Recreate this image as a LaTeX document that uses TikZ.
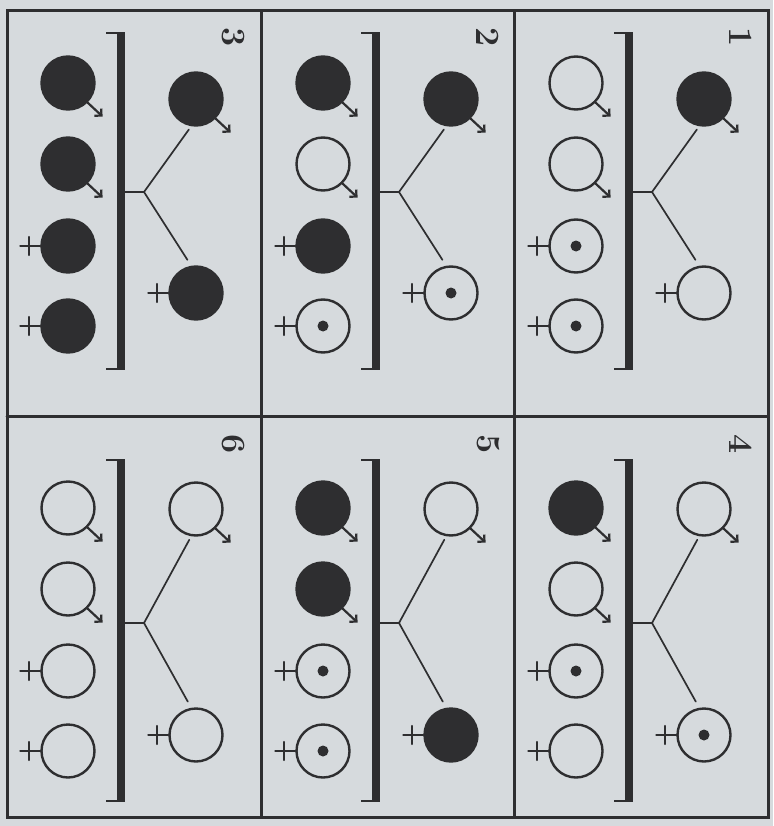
\documentclass[tikz,border=0pt]{standalone}
\usepackage{tikz}
\usetikzlibrary{arrows.meta, calc}

\definecolor{paper}{RGB}{214,218,221}
\definecolor{ink}{RGB}{46,46,48}

\begin{document}
\begin{tikzpicture}[
    x=1pt, y=-1pt, % pixel-like units, y runs downwards
    line cap=round,
    frame/.style={ink, line width=3pt}, % Panel borders
    person/.style={circle, draw=ink, line width=2.4pt, minimum size=53pt, inner sep=0pt},
    aff/.style={person, fill=ink}, % affected
    norm/.style={person, fill=paper}, % healthy
    carr/.style={person, fill=paper,
        path picture={\fill[ink] (path picture bounding box.center) circle (5.5pt);}}, % carrier
    sym/.style={ink, line width=2.2pt}, % sex marks
    marrow/.style={sym, -{Straight Barb[angle=90:7pt]}},
    link/.style={ink, line width=1.7pt}, % Mating lines
    bar/.style={fill=ink, minimum width=8pt, inner sep=0pt},
    tick/.style={ink, line width=2.5pt, line cap=butt},
    numstyle/.style={rotate=-90, font=\fontsize{34}{38}\selectfont\bfseries, text=ink}
]

    % --- Background and frame ---
    \fill[paper] (0,0) rectangle (773,826);
    \useasboundingbox (0,0) rectangle (773,826);
    \draw[frame] (7,11) rectangle (768,817);
    \draw[frame] (261,11) -- (261,817);
    \draw[frame] (514,11) -- (514,817);
    \draw[frame] (7,416) -- (768,416);

    % --- Panels: x offset / row / number / father / mother / four children ---
    \foreach \px/\py/\pn/\ms/\fs/\oa/\ob/\oc/\od in {
        0/0/3/aff/aff/aff/aff/aff/aff,
        255/0/2/aff/carr/aff/norm/aff/carr,
        508/0/1/aff/norm/norm/norm/carr/carr,
        0/1/6/norm/norm/norm/norm/norm/norm,
        255/1/5/norm/aff/aff/aff/carr/carr,
        508/1/4/norm/carr/aff/norm/carr/norm} {

        % row dependent heights
        \pgfmathsetmacro\dy{425*\py}
        \pgfmathsetmacro\my{{99,84}[\py]+\dy}
        \pgfmathsetmacro\fy{{293,310}[\py]+\dy}
        \pgfmathsetmacro\ny{{37,19}[\py]+\dy}
        \pgfmathsetmacro\fk{{192,198}[\py]+\dy}
        \pgfmathsetmacro\bc{{201,205.5}[\py]+\dy}
        \pgfmathsetmacro\bh{{338,343}[\py]}

        % number
        \node[numstyle] (n\pn) at (\px+233, \ny) {\pn};

        % parents
        \node[\ms] (m\pn) at (\px+196, \my) {};
        \node[\fs] (f\pn) at (\px+196, \fy) {};

        % children
        \node[\oa] (o\pn-1) at (\px+68, \dy+83) {};
        \node[\ob] (o\pn-2) at (\px+68, \dy+164) {};
        \node[\oc] (o\pn-3) at (\px+68, \dy+246) {};
        \node[\od] (o\pn-4) at (\px+68, \dy+326) {};

        % bracket
        \node[bar, minimum height=\bh pt] (b\pn) at (\px+121, \bc) {};
        \draw[tick] ([yshift=-1.2pt]b\pn.north west) -- ++(-11,0);
        \draw[tick] ([yshift=1.2pt]b\pn.south west) -- ++(-11,0);

        % mating fork
        \coordinate (y\pn) at (\px+144, \fk);
        \draw[link] (b\pn.east |- y\pn) -- (y\pn);
        \draw[link, shorten >=4pt] (y\pn) -- (m\pn.-100);
        \draw[link, shorten >=7pt] (y\pn) -- (f\pn.100);

        % male marks
        \foreach \who in {m\pn, o\pn-1, o\pn-2}
            \draw[marrow] (\who.-45) -- ++(15,14);
        % female marks
        \foreach \who in {f\pn, o\pn-3, o\pn-4}
            \draw[sym] (\who.west) -- ++(-20,0) ++(9,-9) -- ++(0,18);
    }
\end{tikzpicture}
\end{document}
